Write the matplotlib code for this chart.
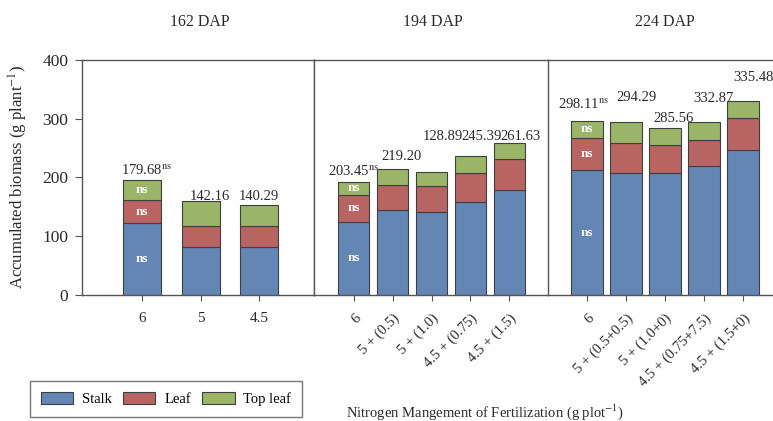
import matplotlib.pyplot as plt
import numpy as np

plt.rcParams['font.family'] = ['Liberation Serif', 'DejaVu Serif']
plt.rcParams['mathtext.fontset'] = 'stix'

# Datos (g planta-1)
titles = ['162 DAP', '194 DAP', '224 DAP']
labels_162 = ['6', '5', '4.5']
labels_194 = ['6', '5 + (0.5)', '5 + (1.0)', '4.5 + (0.75)', '4.5 + (1.5)']
labels_224 = ['6', '5 + (0.5+0.5)', '5 + (1.0+0)', '4.5 + (0.75+7.5)', '4.5 + (1.5+0)']

stalk_162 = [123, 81, 82]
leaf_162 = [38, 37, 36]
top_162 = [34, 42, 35]

stalk_194 = [125, 144, 142, 159, 178]
leaf_194 = [45, 44, 44, 48, 53]
top_194 = [23, 26, 24, 29, 28]

stalk_224 = [212, 207, 208, 219, 247]
leaf_224 = [56, 52, 47, 45, 54]
top_224 = [29, 35, 30, 30, 29]

texts_162 = ['179.68$^{\\mathrm{ns}}$', '142.16', '140.29']
texts_194 = ['203.45$^{\\mathrm{ns}}$', '219.20', '128.89', '245.39', '261.63']
texts_224 = ['298.11$^{\\mathrm{ns}}$', '294.29', '285.56', '332.87', '335.48']

colores = {'Stalk': '#6386b5', 'Leaf': '#b86462', 'Top leaf': '#9ab567'}

paneles = [
    (labels_162, stalk_162, leaf_162, top_162, texts_162),
    (labels_194, stalk_194, leaf_194, top_194, texts_194),
    (labels_224, stalk_224, leaf_224, top_224, texts_224),
]

# posiciones de los paneles (fraccion de figura) y estilo de cada uno
pos = [[0.1061, 0.2993, 0.3001, 0.5582],
       [0.4062, 0.2993, 0.3027, 0.5582],
       [0.7089, 0.2993, 0.2911, 0.5582]]
xlims = [(-1.03, 2.94), (-1.03, 5.0), (-1.0, 4.77)]
widths = [0.65, 0.8, 0.82]
title_x = [200, 433, 665]
# desplazamiento de las etiquetas de valor (dx en barras, y en datos)
label_dx = [[0.07, 0.15, 0.0], [0.0, 0.23, 0.28, 0.28, 0.28], [-0.08, 0.26, 0.23, 0.23, 0.26]]
label_y = [[211, 167, 167], [210, 236, 270, 270, 270], [325, 337, 301, 335, 371]]

fig = plt.figure(figsize=(7.73, 4.21), dpi=100)
edge = '#3f3f3f'
txtcol = '#2a2a2a'

for k, (labs, st, lf, tp, txt) in enumerate(paneles):
    ax = fig.add_axes(pos[k])
    x = np.arange(len(labs))
    st = np.array(st)
    lf = np.array(lf)
    tp = np.array(tp)
    w = widths[k]
    ax.bar(x, st, w, color=colores['Stalk'], edgecolor=edge, linewidth=0.8, label='Stalk')
    ax.bar(x, lf, w, bottom=st, color=colores['Leaf'], edgecolor=edge, linewidth=0.8, label='Leaf')
    ax.bar(x, tp, w, bottom=st + lf, color=colores['Top leaf'], edgecolor=edge, linewidth=0.8, label='Top leaf')

    # "ns" en la primera barra
    for y in [st[0] / 2, st[0] + lf[0] / 2, st[0] + lf[0] + tp[0] / 2]:
        ax.text(0, y, 'ns', color='white', fontsize=9.5, fontweight='bold', ha='center', va='center')

    for i, t in enumerate(txt):
        ax.text(x[i] + label_dx[k][i], label_y[k][i], t, fontsize=10.5, ha='center', va='center', color=txtcol)

    ax.set_xlim(*xlims[k])
    ax.set_ylim(0, 400)
    ax.set_xticks(x)
    if k == 0:
        ax.set_xticklabels(labs, fontsize=11)
        ax.set_yticks([0, 100, 200, 300, 400])
        ax.tick_params(axis='y', labelsize=12.5, length=5, pad=5, color='#555555', labelcolor=txtcol)
    else:
        ax.set_xticklabels(labs, fontsize=10.5, rotation=45, ha='right', rotation_mode='anchor')
        ax.set_yticks([])
    ax.tick_params(axis='x', length=4, pad=8, color='#555555', labelcolor=txtcol)
    for s in ax.spines.values():
        s.set_color('#555555')
        s.set_linewidth(1)
    if k > 0:
        ax.spines['right'].set_visible(False)
    fig.text(title_x[k] / 773, (421 - 22) / 421, titles[k], fontsize=11.5, ha='center', va='center', color=txtcol)
    if k == 0:
        handles, names = ax.get_legend_handles_labels()

fig.text(18 / 773, (421 - 177) / 421, 'Accumulated biomass (g plant$^{-1}$)', rotation=90,
         fontsize=12, ha='center', va='center', color=txtcol)
fig.text(485 / 773, 9 / 421, 'Nitrogen Mangement of Fertilization (g plot$^{-1}$)',
         fontsize=10.5, ha='center', va='center', color=txtcol)

leg = fig.legend(handles, names, ncol=3, loc='lower left', bbox_to_anchor=(30 / 773, 4 / 421),
                 borderaxespad=0, fontsize=10.5, frameon=True, fancybox=False, edgecolor='#555555',
                 handlelength=2.2, handleheight=0.8, columnspacing=0.8, handletextpad=0.6,
                 borderpad=0.75)
leg.get_frame().set_linewidth(1)

plt.savefig('out.png', dpi=100)
